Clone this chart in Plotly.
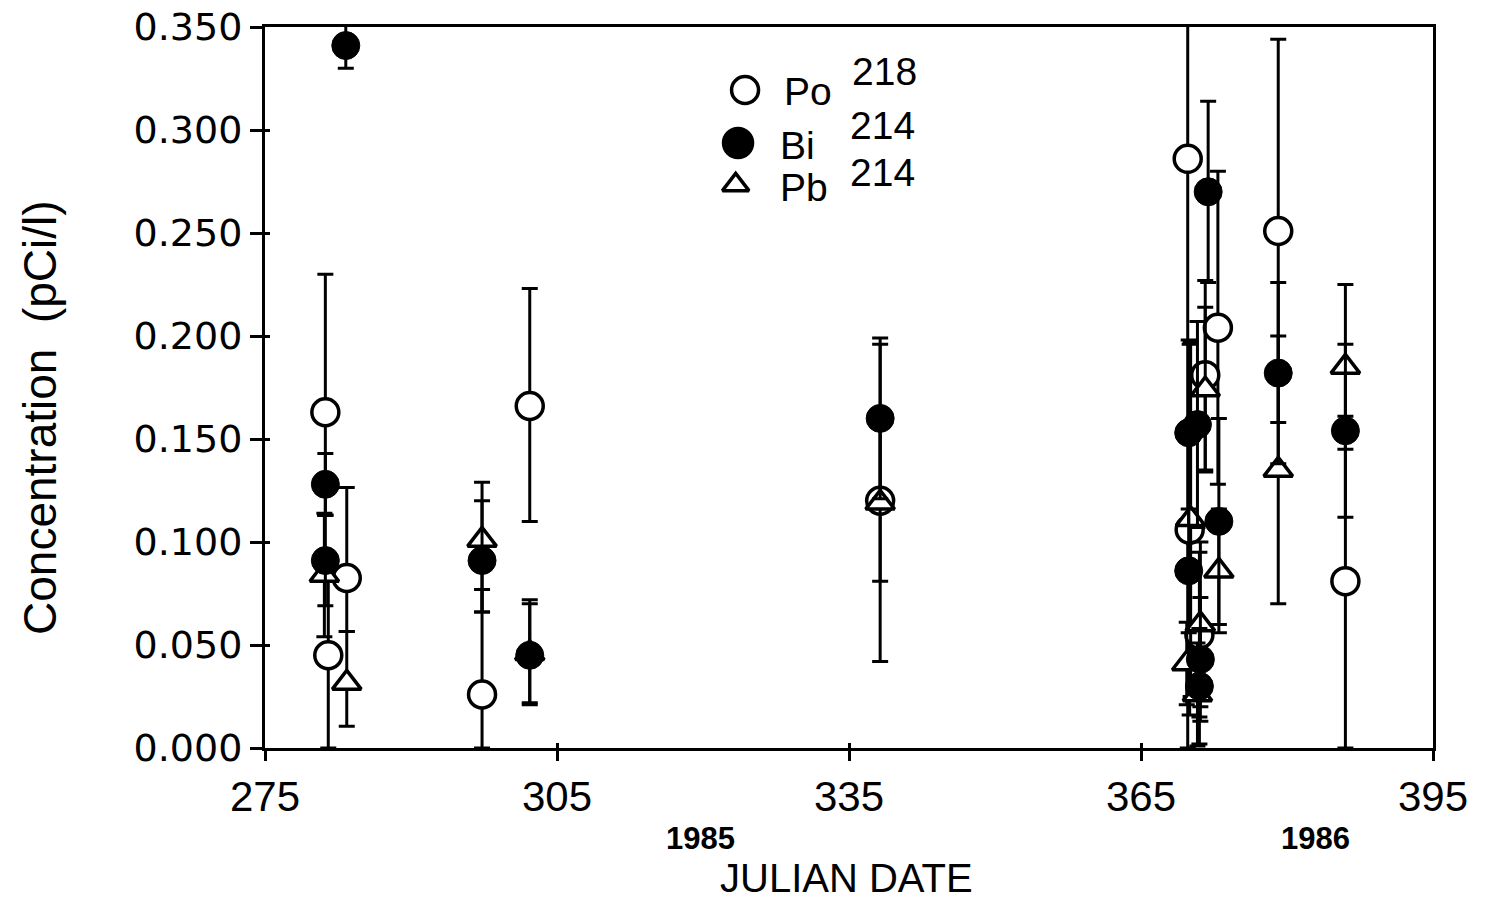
import plotly.graph_objects as go

# ---------------- data ----------------
# Po 218 (open circles)
po_x = [281.2, 281.5, 283.4, 297.3, 302.2, 338.2, 369.8, 370.0, 371.6, 372.9, 371.0, 379.1, 386.0]
po_y = [0.163, 0.045, 0.0825, 0.026, 0.166, 0.120, 0.286, 0.106, 0.181, 0.204, 0.055, 0.251, 0.081]
po_ep = [0.067, 0.045, 0.044, 0.051, 0.057, 0.039, 0.090, 0.090, 0.046, 0.076, 0.040, 0.093, 0.080]
po_em = [0.050, 0.045, 0.026, 0.026, 0.056, 0.039, 0.286, 0.090, 0.046, 0.076, 0.040, 0.093, 0.081]

# Bi 214 (filled circles)
bi_x = [281.2, 281.2, 283.3, 297.3, 302.2, 338.2, 369.9, 370.8, 371.9, 373.0, 369.9, 371.1, 371.0, 379.1, 386.0]
bi_y = [0.128, 0.091, 0.341, 0.091, 0.045, 0.160, 0.153, 0.157, 0.270, 0.110, 0.086, 0.043, 0.030, 0.182, 0.154]
bi_ep = [0.015, 0.022, 0.011, 0.029, 0.027, 0.039, 0.045, 0.050, 0.044, 0.050, 0.030, 0.030, 0.028, 0.044, 0.042]
bi_em = [0.015, 0.022, 0.011, 0.025, 0.024, 0.039, 0.045, 0.050, 0.044, 0.050, 0.030, 0.030, 0.028, 0.044, 0.042]

# Pb 214 (open triangles)
pb_x = [281.1, 283.4, 297.3, 302.2, 338.2, 371.6, 370.1, 373.0, 369.7, 371.1, 370.8, 379.1, 386.0]
pb_y = [0.084, 0.0316, 0.101, 0.046, 0.119, 0.174, 0.111, 0.086, 0.041, 0.060, 0.026, 0.135, 0.185]
pb_ep = [0.030, 0.025, 0.028, 0.024, 0.077, 0.040, 0.086, 0.030, 0.020, 0.040, 0.025, 0.065, 0.040]
pb_em = [0.030, 0.021, 0.035, 0.024, 0.077, 0.040, 0.086, 0.030, 0.020, 0.040, 0.025, 0.065, 0.040]

x_ticks = [275, 305, 335, 365, 395]
y_ticks = [0.0, 0.05, 0.10, 0.15, 0.20, 0.25, 0.30, 0.35]
y_tick_text = ["%.3f" % v for v in y_ticks]

legend_names = ["Po", "Bi", "Pb"]
legend_mass = ["218", "214", "214"]

# ---------------- figure ----------------
BLACK = "black"
fig = go.Figure()

def err(ep, em):
    return dict(type="data", symmetric=False, array=ep, arrayminus=em,
                color=BLACK, thickness=3, width=8)

fig.add_trace(go.Scatter(
    x=po_x, y=po_y, mode="markers", name="Po 218", error_y=err(po_ep, po_em),
    marker=dict(symbol="circle", size=27, color="white", opacity=1, line=dict(color=BLACK, width=3.5))))
fig.add_trace(go.Scatter(
    x=pb_x, y=pb_y, mode="markers", name="Pb 214", error_y=err(pb_ep, pb_em),
    marker=dict(symbol="triangle-up", size=25, color="white", opacity=1, line=dict(color=BLACK, width=3.5))))
fig.add_trace(go.Scatter(
    x=bi_x, y=bi_y, mode="markers", name="Bi 214", error_y=err(bi_ep, bi_em),
    marker=dict(symbol="circle", size=28, color=BLACK, opacity=1, line=dict(color=BLACK, width=1))))

# overlay axes for inward ticks
fig.add_trace(go.Scatter(x=[None], y=[None], xaxis="x2", yaxis="y2", showlegend=False))

# legend keys on a unit overlay axis
leg_x = [0.411, 0.405, 0.403]
leg_y = [0.9126, 0.839, 0.781]
leg_sym = ["circle", "circle", "triangle-up"]
leg_fill = ["white", BLACK, "white"]
leg_size = [27, 29, 23]
for lx, ly, sym, fill, sz in zip(leg_x, leg_y, leg_sym, leg_fill, leg_size):
    fig.add_trace(go.Scatter(
        x=[lx], y=[ly], xaxis="x3", yaxis="y3", mode="markers", showlegend=False,
        marker=dict(symbol=sym, size=sz, color=fill, opacity=1, line=dict(color=BLACK, width=3.5))))

FONT = "Liberation Sans, Arial, sans-serif"
fig.update_layout(
    width=1486, height=903,
    margin=dict(l=265, r=53, t=27, b=155),
    paper_bgcolor="white", plot_bgcolor="white",
    showlegend=False,
    xaxis=dict(range=[275, 395], tickvals=x_ticks, ticks="outside", ticklen=10, tickwidth=2.5,
               tickcolor=BLACK, showline=True, linewidth=3, linecolor=BLACK, mirror=True,
               showgrid=False, zeroline=False, automargin=False,
               tickfont=dict(family=FONT, size=42, color=BLACK)),
    yaxis=dict(range=[0, 0.35], tickvals=y_ticks, ticktext=y_tick_text, ticks="outside",
               ticklen=12, tickwidth=2.5, tickcolor=BLACK, showline=True, linewidth=3,
               linecolor=BLACK, mirror=True, showgrid=False, zeroline=False, automargin=False,
               tickfont=dict(family="DejaVu Sans, sans-serif", size=38, color=BLACK)),
    xaxis2=dict(range=[275, 395], tickvals=x_ticks, overlaying="x", ticks="inside", ticklen=5,
                tickwidth=2.5, tickcolor=BLACK, showticklabels=False, showgrid=False,
                zeroline=False, showline=False, side="bottom", automargin=False),
    yaxis2=dict(range=[0, 0.35], tickvals=y_ticks, overlaying="y", ticks="inside", ticklen=5,
                tickwidth=2.5, tickcolor=BLACK, showticklabels=False, showgrid=False,
                zeroline=False, showline=False, side="left", automargin=False),
    xaxis3=dict(range=[0, 1], overlaying="x", visible=False, automargin=False),
    yaxis3=dict(range=[0, 1], overlaying="y", visible=False, automargin=False),
)

def px2paper(px, py):
    return (px - 265) / 1168.0, (748 - py) / 721.0

ann = []
# legend texts
name_pos = [(782, 92), (778, 145), (778, 187)]
mass_pos = [(850, 72), (848, 125), (848, 172)]
for nm, ms, (nx, ny), (mx, my) in zip(legend_names, legend_mass, name_pos, mass_pos):
    ax_, ay_ = px2paper(nx, ny)
    ann.append(dict(x=ax_, y=ay_, xref="paper", yref="paper", text=nm, showarrow=False,
                    xanchor="left", yanchor="middle",
                    font=dict(family=FONT, size=39, color=BLACK)))
    bx, by = px2paper(mx, my)
    ann.append(dict(x=bx, y=by, xref="paper", yref="paper", text=ms, showarrow=False,
                    xanchor="left", yanchor="middle",
                    font=dict(family=FONT, size=39, color=BLACK)))

tx, ty = px2paper(40, 418)
ann.append(dict(x=tx, y=ty, xref="paper", yref="paper", text="Concentration&nbsp;&nbsp;(pCi/l)",
                textangle=-90, showarrow=False, xanchor="center", yanchor="middle",
                font=dict(family=FONT, size=46, color=BLACK)))
tx, ty = px2paper(846, 878)
ann.append(dict(x=tx, y=ty, xref="paper", yref="paper", text="JULIAN DATE", showarrow=False,
                xanchor="center", yanchor="middle", font=dict(family=FONT, size=40, color=BLACK)))
for yr, cx in (("1985", 700), ("1986", 1315)):
    tx, ty = px2paper(cx, 838)
    ann.append(dict(x=tx, y=ty, xref="paper", yref="paper", text="<b>%s</b>" % yr, showarrow=False,
                    xanchor="center", yanchor="middle", font=dict(family=FONT, size=31, color=BLACK)))

fig.update_layout(annotations=ann)
fig.write_html("out.html")
